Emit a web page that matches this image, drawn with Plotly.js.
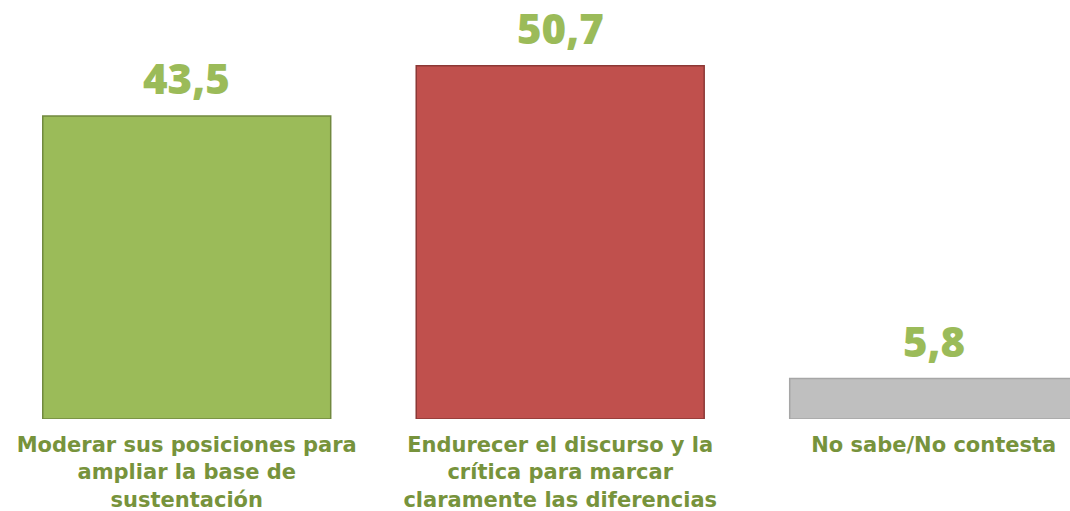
<!DOCTYPE html>
<html><head><meta charset="utf-8">
<script src="https://cdn.plot.ly/plotly-3.0.1.min.js"></script>
<style>html,body{margin:0;padding:0;background:#fff;overflow:hidden}</style>
</head><body>
<div id="chart" style="width:1070px;height:511px"></div>
<script>
var categories = ["Moderar sus posiciones para<br>ampliar la base de<br>sustentación", "Endurecer el discurso y la<br>crítica para marcar<br>claramente las diferencias", "No sabe/No contesta"];
var values = [43.5, 50.7, 5.8];
var valueLabels = ["43,5", "50,7", "5,8"];
var fillColors = ["#9BBB59", "#C0504D", "#BFBFBF"];
var lineColors = ["#71893F", "#8C3836", "#A6A6A6"];

var trace = {
  type: "bar",
  x: [0, 1, 2],
  y: values,
  marker: {color: fillColors, line: {color: lineColors, width: 1.5}},
  hoverinfo: "none"
};
var annotations = values.map(function(v, i){
  return {x: i, y: v, xref: "x", yref: "y", text: valueLabels[i], showarrow: false,
    yanchor: "bottom", yshift: 8,
    font: {family: "Open Sans", size: 42, color: "#9BBB59", weight: 800}};
});
var layout = {
  width: 1070, height: 511,
  margin: {l: 0, r: 0, t: 0, b: 92},
  paper_bgcolor: "#fff", plot_bgcolor: "#fff",
  bargap: 0.229,
  showlegend: false,
  xaxis: {range: [-0.5, 2.365], tickvals: [0, 1, 2], ticktext: categories,
    showgrid: false, zeroline: false, showline: false, ticks: "",
    ticklabelstandoff: 11,
    tickfont: {family: "DejaVu Sans", size: 21, color: "#77933C", weight: "bold"}},
  yaxis: {range: [0, 60.15], visible: false, showgrid: false, zeroline: false},
  annotations: annotations
};
Plotly.newPlot("chart", [trace], layout, {displayModeBar: false, staticPlot: true});
</script>
</body></html>
